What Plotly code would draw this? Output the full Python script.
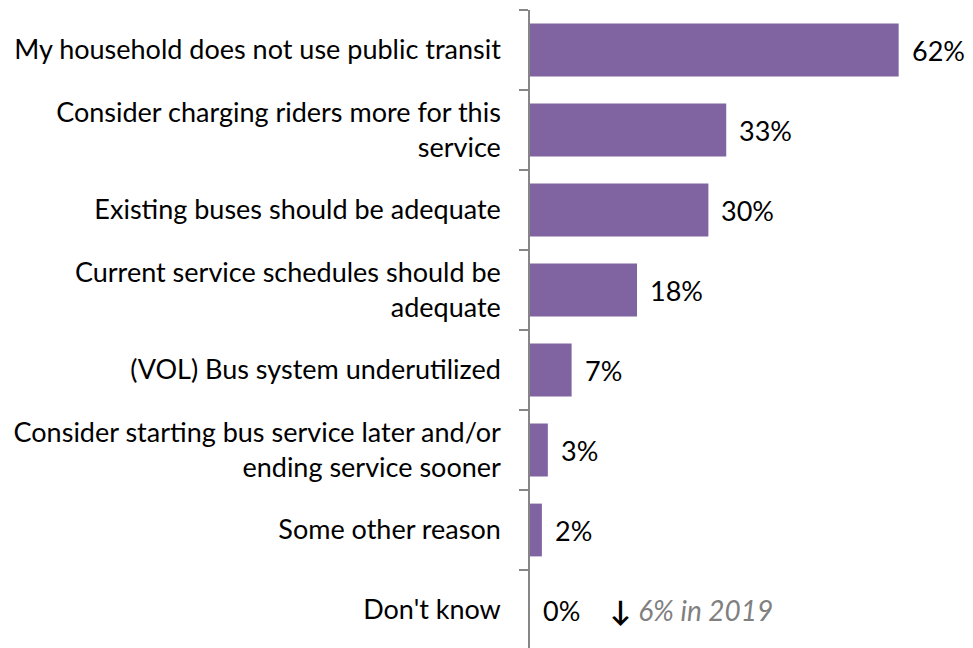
import plotly.graph_objects as go

categories = [
    "My household does not use public transit",
    "Consider charging riders more for this<br>service",
    "Existing buses should be adequate",
    "Current service schedules should be<br>adequate",
    "(VOL) Bus system underutilized",
    "Consider starting bus service later and/or<br>ending service sooner",
    "Some other reason",
    "Don't know",
]
values = [62, 33, 30, 18, 7, 3, 2, 0]
labels = ["62%", "33%", "30%", "18%", "7%", "3%", "2%", "0%"]
note_category = "Don't know"
note_x = 13.2
note_text = "6% in 2019"

FONT = "Lato"
PURPLE = "#8064A2"
GRAY = "#868686"

fig = go.Figure()
fig.add_trace(go.Bar(
    x=values,
    y=categories,
    orientation="h",
    marker=dict(color=PURPLE, line=dict(width=0)),
    hoverinfo="skip",
))

# value labels to the right of each bar
for cat, v, lab in zip(categories, values, labels):
    fig.add_annotation(
        x=v, y=cat, text=lab, showarrow=False,
        xanchor="left", xshift=11,
        font=dict(family=FONT, size=27, color="black"),
    )

fig.add_annotation(
    x=note_x, y=note_category, showarrow=False, xanchor="left",
    text=f"<span style='color:black'><b>↓</b></span> <i>{note_text}</i>",
    font=dict(family=FONT, size=28, color="#808080"),
)

# page body has an 8px margin, so the figure is sized to fit the window
fig.update_layout(
    width=965, height=640,
    margin=dict(l=522, r=0, t=2, b=0),
    plot_bgcolor="white", paper_bgcolor="white",
    bargap=0.34,
    showlegend=False,
    font=dict(family=FONT, size=27, color="black"),
)
fig.update_xaxes(
    range=[0, 74.5], showgrid=False, zeroline=False,
    showticklabels=False, showline=False, ticks="",
)
fig.update_yaxes(
    type="category",
    categoryorder="array", categoryarray=categories,
    range=[7.475, -0.5],
    showline=True, linecolor=GRAY, linewidth=1.5,
    ticks="outside", tickson="boundaries", ticklen=9,
    tickcolor=GRAY, tickwidth=1.5,
    showgrid=False, zeroline=False,
    ticklabelstandoff=22,
    tickfont=dict(family=FONT, size=27, color="black"),
)

fig.write_html("out.html")
